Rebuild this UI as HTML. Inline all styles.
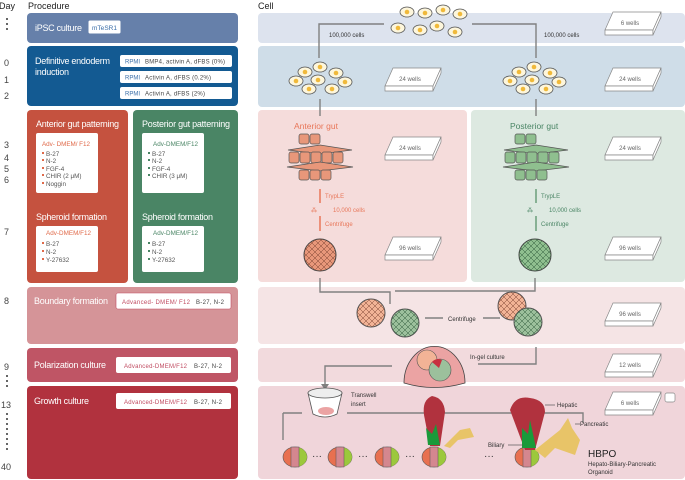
<!DOCTYPE html>
<html><head><meta charset="utf-8"><style>
body{margin:0;background:#fff}
svg{display:block;font-family:"Liberation Sans",sans-serif}
</style></head><body>
<svg width="685" height="480" viewBox="0 0 685 480">
<defs>
<g id="plate"><polygon points="8,0 56,0 48,18 0,18" fill="#fff" stroke="#888" stroke-width="0.7"/><polygon points="0,18 48,18 48,23 0,23" fill="#fff" stroke="#888" stroke-width="0.7"/><polygon points="48,18 56,0 56,5 48,23" fill="#fff" stroke="#888" stroke-width="0.7"/></g>
<g id="cell"><ellipse rx="7" ry="5" fill="#fdf6dc" stroke="#555" stroke-width="0.8"/><circle r="2.3" fill="#f0b93a"/></g>
<pattern id="hexo" width="6" height="6" patternUnits="userSpaceOnUse"><path d="M0 3 L3 0 L6 3 L3 6Z" fill="none" stroke="#7a4030" stroke-width="0.5"/></pattern>
<pattern id="hexg" width="6" height="6" patternUnits="userSpaceOnUse"><path d="M0 3 L3 0 L6 3 L3 6Z" fill="none" stroke="#2e5a3a" stroke-width="0.5"/></pattern>
<g id="tis" stroke="#555" stroke-width="0.7">
<rect x="299" y="134" width="10" height="10" rx="2"/><rect x="310" y="134" width="10" height="10" rx="2"/>
<polygon points="288,150 320,145 352,150 320,154"/>
<rect x="289" y="152" width="10" height="11" rx="2"/><rect x="300" y="152" width="10" height="11" rx="2"/><rect x="311" y="152" width="10" height="11" rx="2"/><rect x="322" y="152" width="10" height="11" rx="2"/><rect x="333" y="152" width="10" height="11" rx="2"/>
<polygon points="287,167 320,162 353,167 320,171"/>
<rect x="299" y="170" width="10" height="10" rx="2"/><rect x="310" y="170" width="10" height="10" rx="2"/><rect x="321" y="170" width="10" height="10" rx="2"/>
</g>
<g id="org"><ellipse cx="0" cy="0" rx="12" ry="10" fill="#e87050" stroke="#555" stroke-width="0.6"/><path d="M0,-10 A12,10 0 0 1 0,10Z" fill="#9cc83c"/><rect x="-4" y="-10" width="8" height="20" fill="#d4878f" stroke="#555" stroke-width="0.5"/></g>
</defs>
<style>.w{fill:#fff}.t{font-size:6.3px;fill:#555}.d{font-size:9px;fill:#444}.h{font-size:9px;fill:#fff}</style>
<text x="-1" y="9" font-size="9" fill="#222">Day</text>
<text x="28" y="9" font-size="9" fill="#222">Procedure</text>
<text x="258" y="9" font-size="9" fill="#222">Cell</text>
<g fill="#666"><rect x="6" y="18" width="2" height="2"/><rect x="6" y="23" width="2" height="2"/><rect x="6" y="28" width="2" height="2"/></g>
<g class="d"><text x="4" y="66">0</text><text x="4" y="83">1</text><text x="4" y="99">2</text><text x="4" y="148">3</text><text x="4" y="161">4</text><text x="4" y="172">5</text><text x="4" y="183">6</text><text x="4" y="235">7</text><text x="4" y="304">8</text><text x="4" y="370">9</text><text x="1" y="408">13</text><text x="1" y="470">40</text></g>
<g fill="#666"><rect x="6" y="375" width="2" height="2"/><rect x="6" y="380" width="2" height="2"/><rect x="6" y="385" width="2" height="2"/>
<rect x="6" y="413" width="2" height="2"/><rect x="6" y="418" width="2" height="2"/><rect x="6" y="423" width="2" height="2"/><rect x="6" y="428" width="2" height="2"/><rect x="6" y="433" width="2" height="2"/><rect x="6" y="438" width="2" height="2"/><rect x="6" y="443" width="2" height="2"/><rect x="6" y="448" width="2" height="2"/></g>
<rect x="27" y="13" width="211" height="30" rx="4" fill="#6680aa"/>
<text x="35" y="31" class="h" textLength="47">iPSC culture</text>
<rect x="88" y="20" width="33" height="14" rx="2" class="w" stroke="#6680aa"/>
<text x="92" y="30" font-size="6.5" fill="#3a6ea8" textLength="25">mTeSR1</text>
<rect x="27" y="46" width="211" height="60" rx="4" fill="#135a92"/>
<text x="35" y="64" class="h" textLength="75">Definitive endoderm</text><text x="35" y="75" class="h" textLength="34">induction</text>
<g font-size="6"><rect x="120" y="55" width="112" height="12" rx="2" class="w"/><text x="125" y="63.5" fill="#3a6ea8">RPMI</text><text x="145" y="63.5" fill="#444" textLength="80">BMP4, activin A, dFBS (0%)</text>
<rect x="120" y="71" width="112" height="12" rx="2" class="w"/><text x="125" y="79.5" fill="#3a6ea8">RPMI</text><text x="145" y="79.5" fill="#444" textLength="66">Activin A, dFBS (0.2%)</text>
<rect x="120" y="87" width="112" height="12" rx="2" class="w"/><text x="125" y="95.5" fill="#3a6ea8">RPMI</text><text x="145" y="95.5" fill="#444" textLength="60">Activin A, dFBS (2%)</text></g>
<rect x="27" y="110" width="101" height="173" rx="4" fill="#c5523f"/>
<rect x="133" y="110" width="105" height="173" rx="4" fill="#4a8565"/>
<text x="36" y="127" class="h" textLength="83">Anterior gut patterning</text>
<text x="142" y="127" class="h" textLength="88">Posterior gut patterning</text>
<text x="36" y="220" class="h" textLength="71">Spheroid formation</text>
<text x="142" y="220" class="h" textLength="71">Spheroid formation</text>
<rect x="36" y="133" width="62" height="60" rx="2" class="w"/><rect x="142" y="133" width="62" height="60" rx="2" class="w"/>
<rect x="36" y="226" width="62" height="46" rx="2" class="w"/><rect x="142" y="226" width="62" height="46" rx="2" class="w"/>
<g class="t"><text x="42" y="146" fill="#e06a4a" textLength="48">Adv- DMEM/ F12</text><text x="46" y="156">B-27</text><text x="46" y="163">N-2</text><text x="46" y="171">FGF-4</text><text x="46" y="178">CHIR (2 μM)</text><text x="46" y="186">Noggin</text>
<text x="46" y="235" fill="#e06a4a" textLength="45">Adv-DMEM/F12</text><text x="46" y="246">B-27</text><text x="46" y="254">N-2</text><text x="46" y="262">Y-27632</text>
<text x="153" y="146" fill="#4a8565" textLength="45">Adv-DMEM/F12</text><text x="152" y="156">B-27</text><text x="152" y="163">N-2</text><text x="152" y="171">FGF-4</text><text x="152" y="178">CHIR (3 μM)</text>
<text x="153" y="235" fill="#4a8565" textLength="45">Adv-DMEM/F12</text><text x="152" y="246">B-27</text><text x="152" y="254">N-2</text><text x="152" y="262">Y-27632</text></g>
<g fill="#e06a4a"><rect x="42" y="152" width="2" height="2"/><rect x="42" y="159" width="2" height="2"/><rect x="42" y="167" width="2" height="2"/><rect x="42" y="174" width="2" height="2"/><rect x="42" y="182" width="2" height="2"/><rect x="42" y="242" width="2" height="2"/><rect x="42" y="250" width="2" height="2"/><rect x="42" y="258" width="2" height="2"/></g>
<g fill="#4a8565"><rect x="148" y="152" width="2" height="2"/><rect x="148" y="159" width="2" height="2"/><rect x="148" y="167" width="2" height="2"/><rect x="148" y="174" width="2" height="2"/><rect x="148" y="242" width="2" height="2"/><rect x="148" y="250" width="2" height="2"/><rect x="148" y="258" width="2" height="2"/></g>
<rect x="27" y="287" width="211" height="57" rx="4" fill="#d59498"/>
<text x="34" y="304" class="h" textLength="74">Boundary formation</text>
<rect x="116" y="293" width="115" height="16" rx="2" class="w" stroke="#c04a60" stroke-width="0.6"/>
<text x="122" y="304" font-size="6" fill="#c04a60" textLength="68">Advanced-  DMEM/ F12</text><text x="196" y="304" font-size="6" fill="#444" textLength="28">B-27, N-2</text>
<rect x="27" y="348" width="211" height="34" rx="4" fill="#bf5565"/>
<text x="34" y="368" class="h" textLength="72">Polarization culture</text>
<rect x="116" y="357" width="115" height="16" rx="2" class="w"/>
<text x="124" y="368" font-size="6" fill="#c04a60" textLength="63">Advanced-DMEM/F12</text><text x="194" y="368" font-size="6" fill="#444" textLength="28">B-27, N-2</text>
<rect x="27" y="386" width="211" height="93" rx="4" fill="#b1323e"/>
<text x="34" y="404" class="h" textLength="55">Growth culture</text>
<rect x="116" y="393" width="115" height="16" rx="2" class="w"/>
<text x="124" y="404" font-size="6" fill="#c04a60" textLength="63">Advanced-DMEM/F12</text><text x="194" y="404" font-size="6" fill="#444" textLength="28">B-27, N-2</text>
<rect x="258" y="13" width="427" height="30" rx="4" fill="#dde3ee"/>
<rect x="258" y="46" width="427" height="61" rx="4" fill="#cfdde8"/>
<rect x="258" y="110" width="209" height="172" rx="4" fill="#f5dcdb"/>
<rect x="471" y="110" width="214" height="172" rx="4" fill="#dde9e1"/>
<rect x="258" y="287" width="427" height="57" rx="4" fill="#f5e4e5"/>
<rect x="258" y="348" width="427" height="34" rx="4" fill="#f2dadd"/>
<rect x="258" y="386" width="427" height="93" rx="4" fill="#f0d5da"/>
<g stroke="#808080" stroke-width="1.4" fill="none">
<polyline points="384,24 319,24 319,58"/><polyline points="472,24 536,24 536,58"/>
<line x1="320" y1="99" x2="320" y2="116"/><line x1="536" y1="99" x2="536" y2="116"/>
<polyline points="320,278 320,292 390,292 390,304"/><polyline points="535,278 535,291 395,291"/>
<line x1="425" y1="318" x2="443" y2="318"/><line x1="483" y1="318" x2="500" y2="318"/>
<polyline points="536,347 536,364 478,364"/><polyline points="392,366 325,366 325,386"/>
<polyline points="283,413 283,440"/><line x1="283" y1="413" x2="302" y2="413"/>
<polyline points="347,413 583,413 583,423"/>
</g>
<polygon points="321,384 329,384 325,390" fill="#808080"/>
<use href="#cell" x="407" y="12"/><use href="#cell" x="425" y="13"/><use href="#cell" x="443" y="10"/><use href="#cell" x="460" y="14"/>
<use href="#cell" x="398" y="28"/><use href="#cell" x="420" y="30"/><use href="#cell" x="437" y="26"/><use href="#cell" x="455" y="32"/>
<text x="329" y="37" font-size="6" fill="#333">100,000 cells</text><text x="544" y="37" font-size="6" fill="#333">100,000 cells</text>
<g id="de"><use href="#cell" x="305" y="72"/><use href="#cell" x="320" y="67"/><use href="#cell" x="336" y="73"/><use href="#cell" x="296" y="81"/><use href="#cell" x="318" y="80"/><use href="#cell" x="345" y="82"/><use href="#cell" x="309" y="89"/><use href="#cell" x="332" y="89"/></g>
<use href="#de" x="214"/>
<g font-size="6" fill="#666" text-anchor="middle">
<use href="#plate" x="605" y="12"/><text x="630" y="25">6 wells</text>
<use href="#plate" x="385" y="68"/><text x="410" y="81">24 wells</text>
<use href="#plate" x="605" y="68"/><text x="630" y="81">24 wells</text>
<use href="#plate" x="385" y="137"/><text x="410" y="150">24 wells</text>
<use href="#plate" x="605" y="137"/><text x="630" y="150">24 wells</text>
<use href="#plate" x="385" y="237"/><text x="410" y="250">96 wells</text>
<use href="#plate" x="605" y="237"/><text x="630" y="250">96 wells</text>
<use href="#plate" x="605" y="303"/><text x="630" y="316">96 wells</text>
<use href="#plate" x="605" y="354"/><text x="630" y="367">12 wells</text>
<use href="#plate" x="605" y="392"/><text x="630" y="405">6 wells</text>
</g>
<rect x="665" y="393" width="10" height="9" rx="2" fill="#fff" stroke="#888" stroke-width="0.7"/>
<text x="294" y="129" font-size="8.5" fill="#e8775a">Anterior gut</text>
<text x="510" y="129" font-size="8.5" fill="#4a8565">Posterior gut</text>
<use href="#tis" fill="#e8977a"/>
<use href="#tis" x="216" fill="#8fbf8f"/>
<g stroke="#e8775a" stroke-width="1.5"><line x1="320" y1="189" x2="320" y2="203"/><line x1="320" y1="216" x2="320" y2="231"/></g>
<g stroke="#6a9e7a" stroke-width="1.5"><line x1="536" y1="189" x2="536" y2="203"/><line x1="536" y1="216" x2="536" y2="231"/></g>
<g font-size="6" fill="#e8775a"><text x="325" y="198">TrypLE</text><text x="333" y="212">10,000 cells</text><text x="325" y="226">Centrifuge</text><text x="311" y="212">⁂</text></g>
<g font-size="6" fill="#4a8565"><text x="541" y="198">TrypLE</text><text x="549" y="212">10,000 cells</text><text x="541" y="226">Centrifuge</text><text x="527" y="212">⁂</text></g>
<circle cx="320" cy="255" r="16" fill="#e8977a" stroke="#444"/><circle cx="320" cy="255" r="16" fill="url(#hexo)"/>
<circle cx="535" cy="255" r="16" fill="#8fbf8f" stroke="#444"/><circle cx="535" cy="255" r="16" fill="url(#hexg)"/>
<circle cx="371" cy="313" r="14" fill="#f2b396" stroke="#555"/><circle cx="371" cy="313" r="14" fill="url(#hexo)"/>
<circle cx="405" cy="323" r="14" fill="#9cc09c" stroke="#555"/><circle cx="405" cy="323" r="14" fill="url(#hexg)"/>
<text x="448" y="321" font-size="6" fill="#333">Centrifuge</text>
<circle cx="512" cy="306" r="14" fill="#f2b396" stroke="#555"/><circle cx="512" cy="306" r="14" fill="url(#hexo)"/>
<circle cx="528" cy="322" r="14" fill="#9cc09c" stroke="#555"/><circle cx="528" cy="322" r="14" fill="url(#hexg)"/>
<path d="M404,383 A30,36 0 0 1 465,383 Q434,392 404,383Z" fill="#eba3a3" stroke="#444" stroke-width="0.8"/>
<circle cx="427" cy="360" r="10" fill="#f2b396" stroke="#555" stroke-width="0.6"/><circle cx="440" cy="370" r="11" fill="#9cc09c" stroke="#555" stroke-width="0.6"/>
<path d="M432,362 a8,8 0 0 1 10,-2 l-3,8z" fill="#c83040"/>
<text x="470" y="359" font-size="6" fill="#333">In-gel culture</text>
<path d="M308,393 L313,414 Q325,420 337,414 L342,393Z" fill="#fff" stroke="#555" stroke-width="0.8"/>
<ellipse cx="325" cy="393" rx="17" ry="5" fill="#eee" stroke="#555" stroke-width="0.8"/>
<ellipse cx="326" cy="411" rx="8" ry="4" fill="#eba3a3"/>
<text x="351" y="397" font-size="6" fill="#333">Transwell</text><text x="351" y="406" font-size="6" fill="#333">insert</text>
<use href="#org" x="295" y="457"/><use href="#org" x="340" y="457"/><use href="#org" x="387" y="457"/><use href="#org" x="434" y="457"/><use href="#org" x="527" y="457"/>
<g font-size="10" fill="#333"><text x="312" y="459">···</text><text x="358" y="459">···</text><text x="405" y="459">···</text><text x="484" y="459">···</text></g>
<path d="M424,415 Q422,400 432,396 Q444,398 445,412 L440,446 L430,446Z" fill="#b1323e"/>
<path d="M428,445 L426,428 L432,434 L436,424 L440,445Z" fill="#1a9a3a"/>
<path d="M444,446 L460,430 L470,428 L474,437 L458,440 L450,448Z" fill="#e8c468"/>
<path d="M510,410 Q515,395 530,398 Q545,400 545,412 L535,450 L525,450Z" fill="#b1323e"/>
<path d="M522,448 L522,428 L528,434 L530,420 L536,448Z" fill="#1a9a3a"/>
<path d="M535,450 L560,430 L568,418 L572,428 L580,440 L575,455 L555,448 L545,458Z" fill="#e8c468"/>
<line x1="545" y1="405" x2="555" y2="405" stroke="#555" stroke-width="0.7"/>
<text x="557" y="407" font-size="6" fill="#333">Hepatic</text>
<line x1="575" y1="424" x2="580" y2="424" stroke="#555" stroke-width="0.7"/>
<text x="580" y="426" font-size="6" fill="#333">Pancreatic</text>
<line x1="508" y1="445" x2="523" y2="445" stroke="#555" stroke-width="0.7"/>
<text x="488" y="447" font-size="6" fill="#333">Biliary</text>
<text x="588" y="457" font-size="10" fill="#222">HBPO</text>
<text x="588" y="466" font-size="6" fill="#333">Hepato-Biliary-Pancreatic</text>
<text x="588" y="474" font-size="6" fill="#333">Organoid</text>
</svg>
</body></html>
